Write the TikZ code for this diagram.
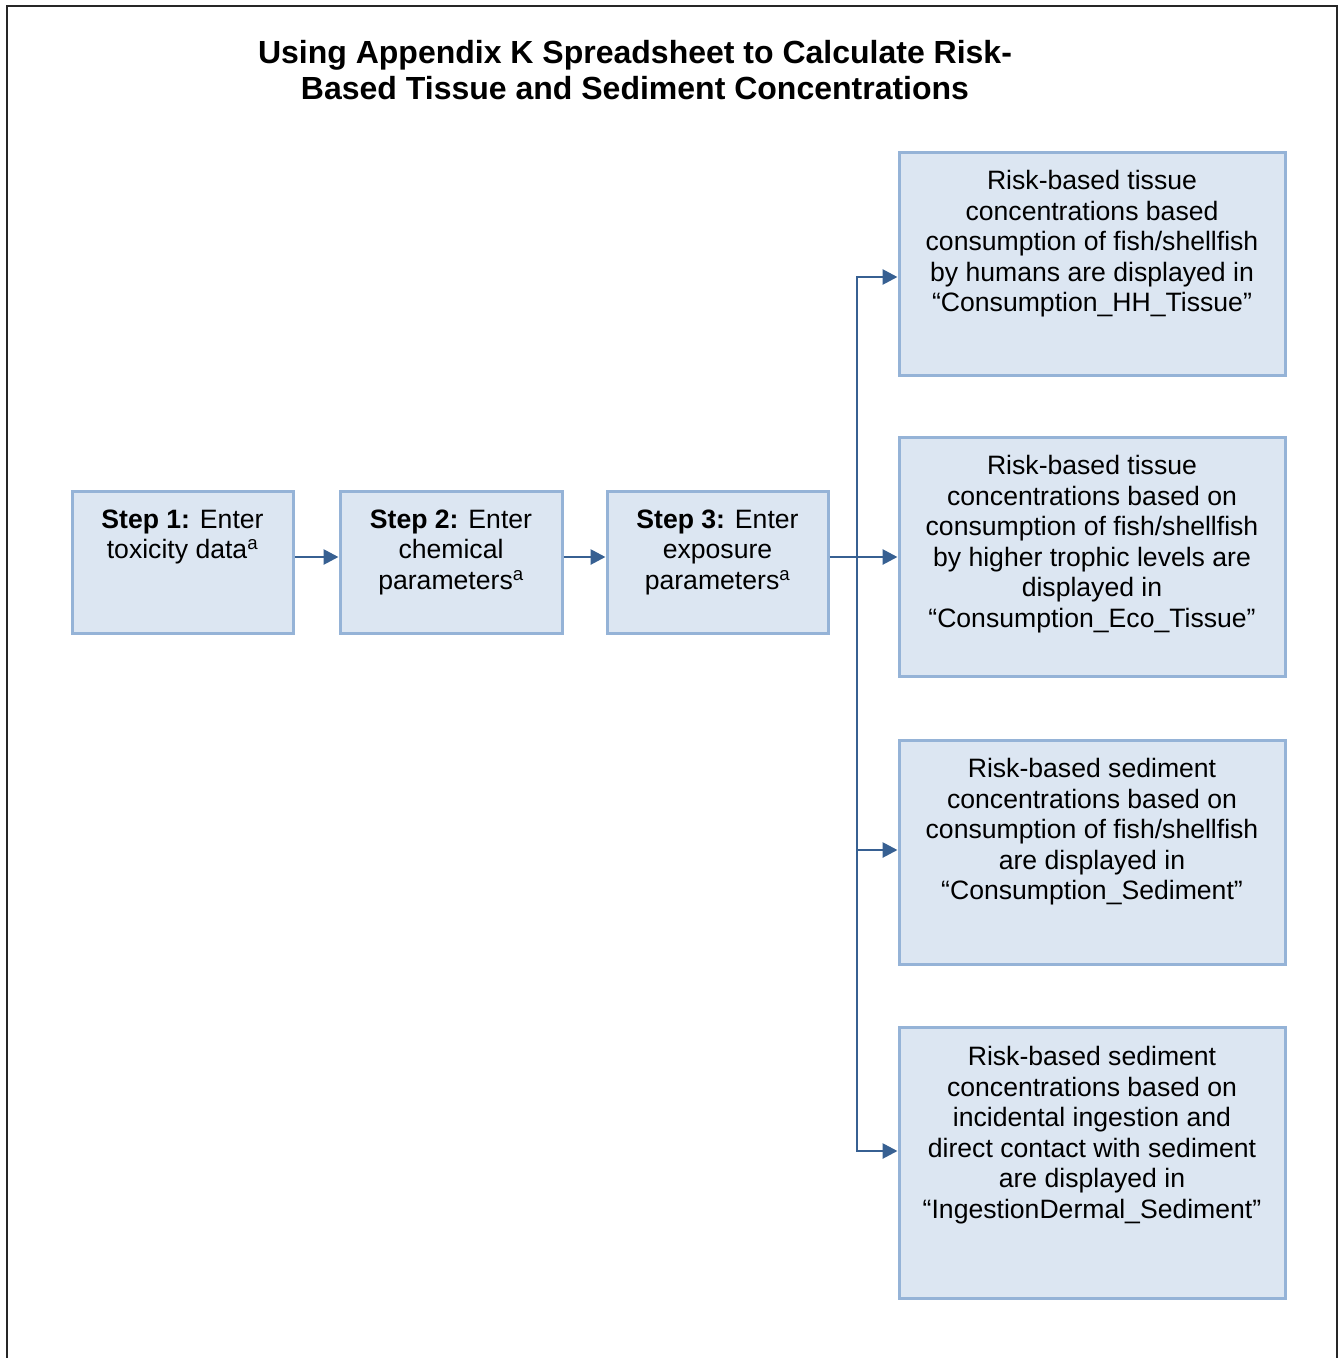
\documentclass[tikz,border=0pt]{standalone}
\usepackage{fontspec}
\setmainfont{Liberation Sans}
\usetikzlibrary{arrows.meta}
\definecolor{boxfill}{HTML}{DCE6F2}
\definecolor{boxline}{HTML}{95B3D7}
\definecolor{flow}{HTML}{376092}
\begin{document}
\begin{tikzpicture}[x=1pt,y=-1pt,
  stepbox/.style={draw=boxline,fill=boxfill,line width=3pt,rectangle,inner sep=0pt},
  boxtext/.style={anchor=north,inner sep=0pt,align=center,font=\fontsize{26.6}{30.6}\selectfont},
  arr/.style={draw=flow,line width=2.8pt,-{Triangle[length=15pt,width=15pt]}},
  frame/.style={draw=black!85,line width=2.5pt}]
\useasboundingbox (0,0) rectangle (1344,1358);
% outer frame, open at the bottom
\draw[frame] (7,1362) -- (7,6) -- (1337,6) -- (1337,1362);
% title
\node[inner sep=0pt,align=center,font=\bfseries\fontsize{32}{36}\selectfont] (title) at (635,70)
  {Using Appendix K Spreadsheet to Calculate Risk-\\Based Tissue and Sediment Concentrations};
% input steps
\node[stepbox,minimum width=221pt,minimum height=142pt] (s1) at (182.5,562) {};
\node[stepbox,minimum width=222pt,minimum height=142pt] (s2) at (451,562) {};
\node[stepbox,minimum width=221pt,minimum height=142pt] (s3) at (717.5,562) {};
\node[boxtext] (t1) at ([yshift=-20pt]s1.north) {\textbf{Step 1:} Enter\\toxicity data\textsuperscript{a}};
\node[boxtext] (t2) at ([yshift=-20pt]s2.north) {\textbf{Step 2:} Enter\\chemical\\parameters\textsuperscript{a}};
\node[boxtext] (t3) at ([yshift=-20pt]s3.north) {\textbf{Step 3:} Enter\\exposure\\parameters\textsuperscript{a}};
% output worksheets
\node[stepbox,minimum width=386pt,minimum height=223pt] (oA) at (1092,263.5) {};
\node[stepbox,minimum width=386pt,minimum height=239pt] (oB) at (1092,556.5) {};
\node[stepbox,minimum width=386pt,minimum height=224pt] (oC) at (1092,852) {};
\node[stepbox,minimum width=386pt,minimum height=271pt] (oD) at (1092,1162.5) {};
\node[boxtext] (tA) at ([yshift=-19.5pt]oA.north) {Risk-based tissue\\concentrations based\\consumption of fish/shellfish\\by humans are displayed in\\“Consumption\_HH\_Tissue”};
\node[boxtext] (tB) at ([yshift=-19.5pt]oB.north) {Risk-based tissue\\concentrations based on\\consumption of fish/shellfish\\by higher trophic levels are\\displayed in\\“Consumption\_Eco\_Tissue”};
\node[boxtext] (tC) at ([yshift=-19.5pt]oC.north) {Risk-based sediment\\concentrations based on\\consumption of fish/shellfish\\are displayed in\\“Consumption\_Sediment”};
\node[boxtext] (tD) at ([yshift=-20.5pt]oD.north) {Risk-based sediment\\concentrations based on\\incidental ingestion and\\direct contact with sediment\\are displayed in\\“IngestionDermal\_Sediment”};
% connectors
\draw[arr] (s1.east |- 0,557) -- (s2.west |- 0,557);
\draw[arr] (s2.east |- 0,557) -- (s3.west |- 0,557);
\draw[arr] (s3.east |- 0,557) -- (oB.west |- 0,557);
\coordinate (jA) at (857,277);
\coordinate (jC) at (857,850);
\coordinate (jD) at (857,1151);
\draw[arr] (jD) -- (jA) -- (jA -| oA.west);
\draw[arr] (jA) -- (jD) -- (jD -| oD.west);
\draw[arr] (jC) -- (jC -| oC.west);
\end{tikzpicture}
\end{document}
